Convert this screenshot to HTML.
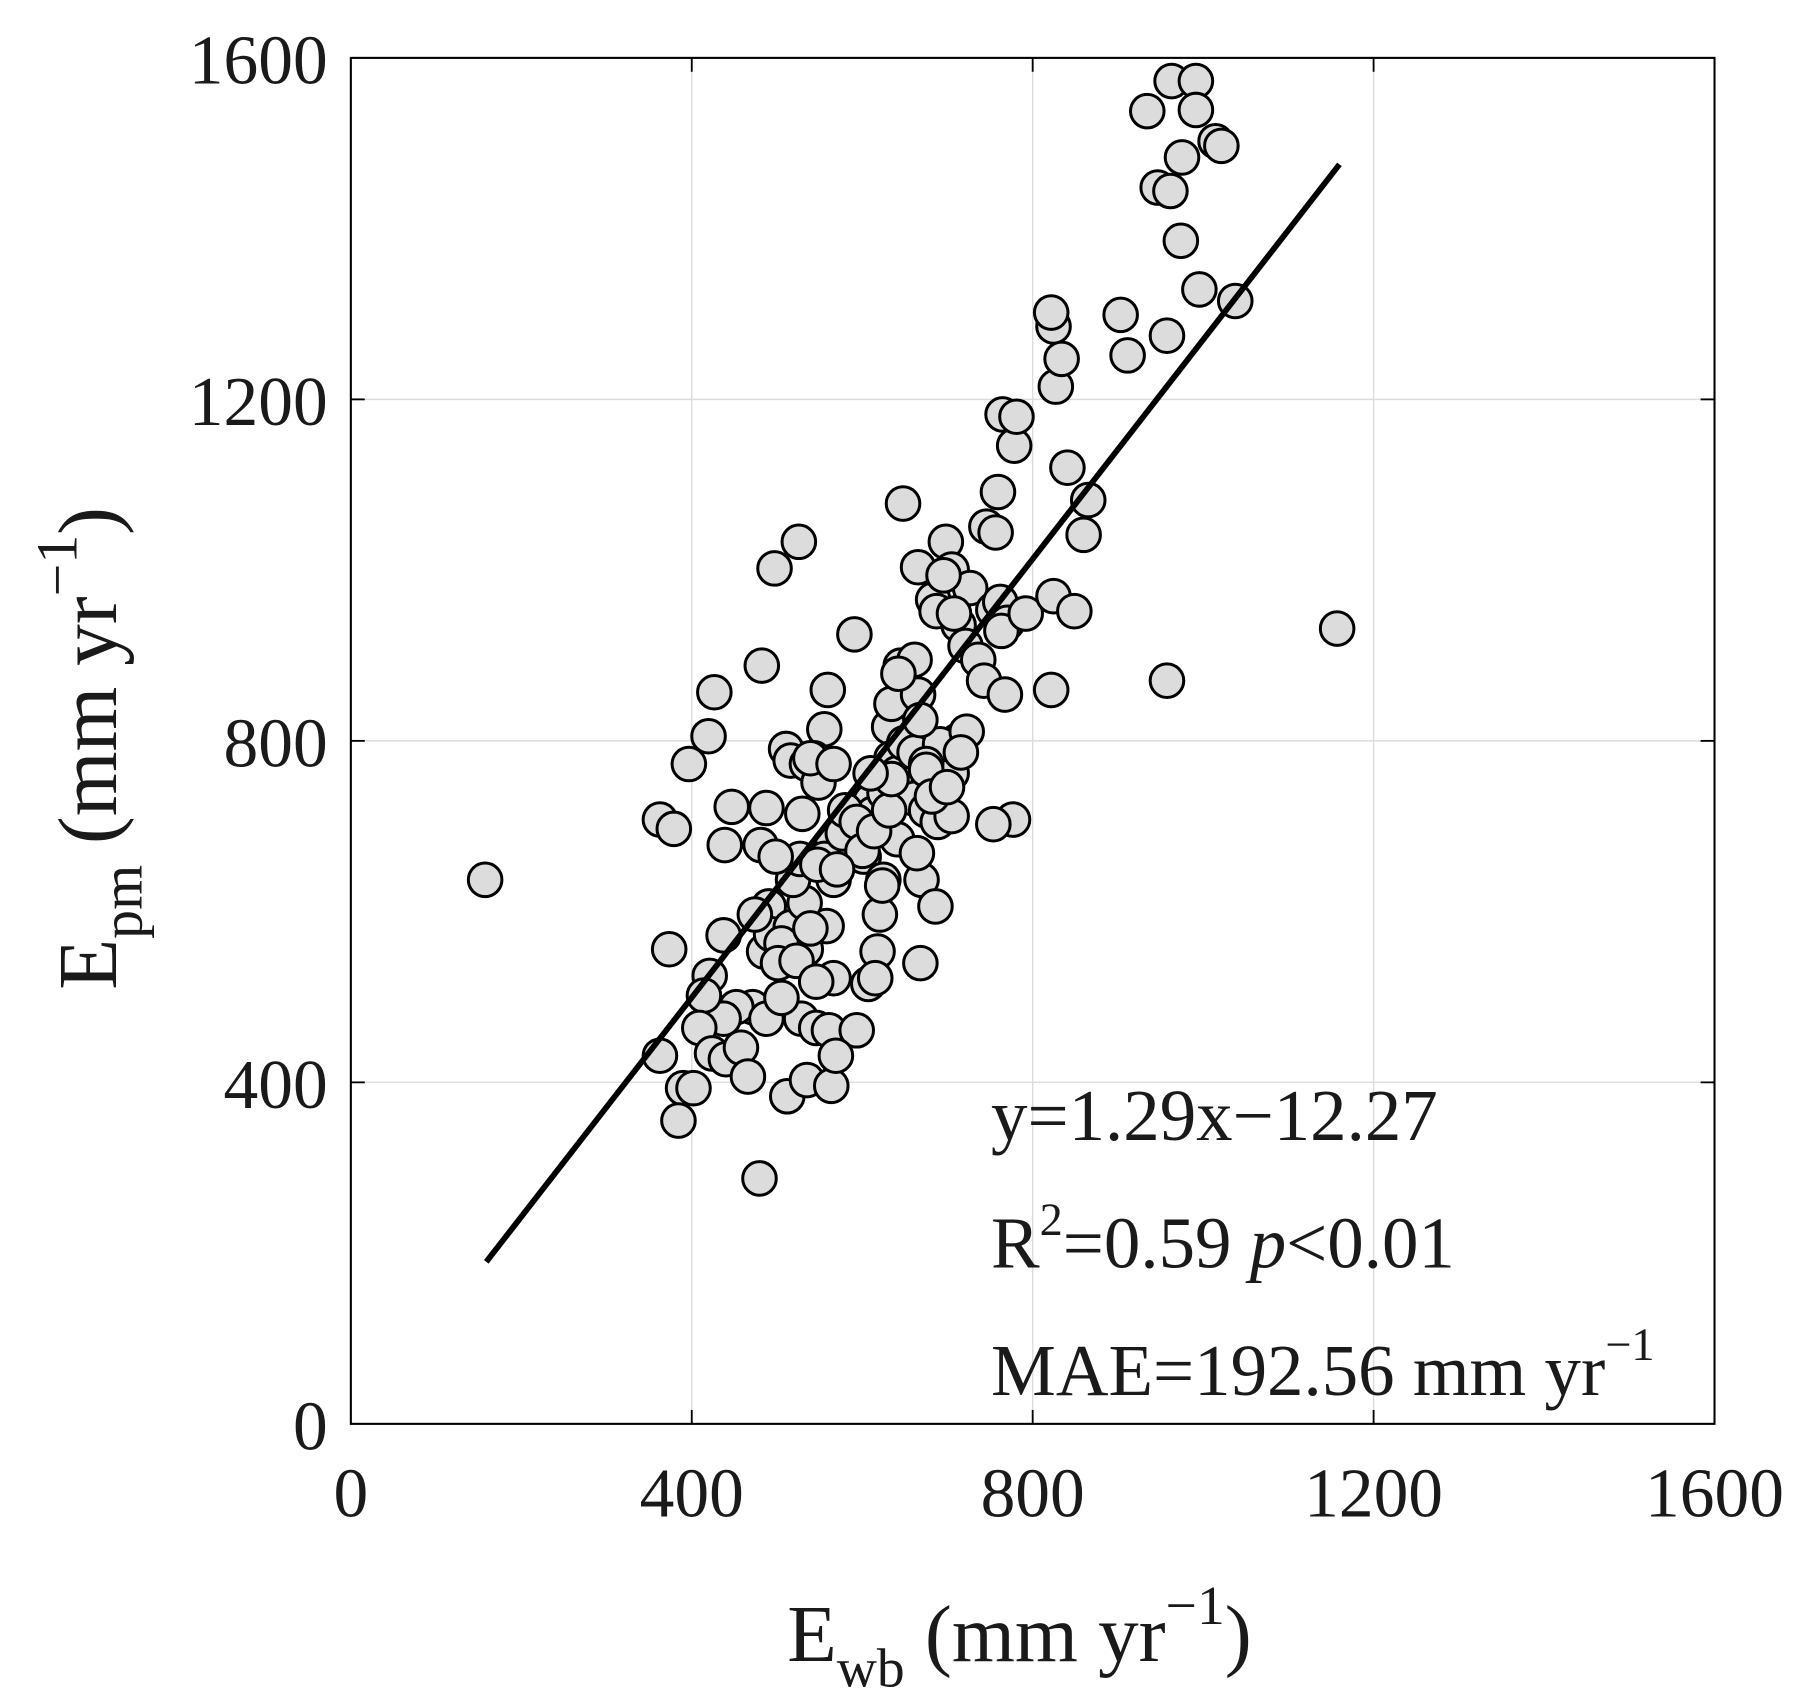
<!DOCTYPE html>
<html><head><meta charset="utf-8"><style>html,body{margin:0;padding:0;background:#fff}svg{display:block}</style></head>
<body>
<svg width="1813" height="1704" viewBox="0 0 1566 1472" xmlns="http://www.w3.org/2000/svg" font-family="Liberation Serif, serif">
<rect width="1566" height="1472" fill="#fff"/>
<g stroke="#dcdcdc" stroke-width="1.2">
<line x1="597.5" y1="50" x2="597.5" y2="1230"/><line x1="892" y1="50" x2="892" y2="1230"/><line x1="1186.5" y1="50" x2="1186.5" y2="1230"/>
<line x1="303" y1="935" x2="1481" y2="935"/><line x1="303" y1="640" x2="1481" y2="640"/><line x1="303" y1="345" x2="1481" y2="345"/>
</g>
<g stroke="#000" stroke-width="1.6">
<line x1="597.5" y1="1230" x2="597.5" y2="1218"/><line x1="892" y1="1230" x2="892" y2="1218"/><line x1="1186.5" y1="1230" x2="1186.5" y2="1218"/>
<line x1="597.5" y1="50" x2="597.5" y2="62"/><line x1="892" y1="50" x2="892" y2="62"/><line x1="1186.5" y1="50" x2="1186.5" y2="62"/>
<line x1="303" y1="935" x2="315" y2="935"/><line x1="303" y1="640" x2="315" y2="640"/><line x1="303" y1="345" x2="315" y2="345"/>
<line x1="1481" y1="935" x2="1469" y2="935"/><line x1="1481" y1="640" x2="1469" y2="640"/><line x1="1481" y1="345" x2="1469" y2="345"/>
</g>
<g fill="#dcdcdc" stroke="#000" stroke-width="2.6">
<circle cx="419" cy="760" r="14.5"/><circle cx="570" cy="708" r="14.5"/><circle cx="582" cy="716" r="14.5"/><circle cx="578" cy="820" r="14.5"/><circle cx="595" cy="660" r="14.5"/><circle cx="612" cy="636" r="14.5"/><circle cx="617" cy="598" r="14.5"/><circle cx="625" cy="808" r="14.5"/><circle cx="632" cy="697" r="14.5"/><circle cx="626" cy="730" r="14.5"/><circle cx="658" cy="575" r="14.5"/><circle cx="660" cy="822" r="14.5"/><circle cx="662" cy="698" r="14.5"/><circle cx="657" cy="730" r="14.5"/><circle cx="669" cy="491" r="14.5"/><circle cx="690" cy="468" r="14.5"/><circle cx="679" cy="647" r="14.5"/><circle cx="664" cy="783" r="14.5"/><circle cx="666" cy="807" r="14.5"/><circle cx="692" cy="880" r="14.5"/><circle cx="683" cy="801" r="14.5"/><circle cx="683" cy="657" r="14.5"/><circle cx="697" cy="660" r="14.5"/><circle cx="693" cy="703" r="14.5"/><circle cx="693" cy="745" r="14.5"/><circle cx="715" cy="596" r="14.5"/><circle cx="712" cy="630" r="14.5"/><circle cx="703" cy="655" r="14.5"/><circle cx="707" cy="676" r="14.5"/><circle cx="719" cy="728" r="14.5"/><circle cx="712" cy="742" r="14.5"/><circle cx="705" cy="888" r="14.5"/><circle cx="716" cy="890" r="14.5"/><circle cx="728" cy="720" r="14.5"/><circle cx="738" cy="548" r="14.5"/><circle cx="740" cy="702" r="14.5"/><circle cx="746" cy="740" r="14.5"/><circle cx="752" cy="692" r="14.5"/><circle cx="754" cy="703" r="14.5"/><circle cx="764" cy="685" r="14.5"/><circle cx="768" cy="628" r="14.5"/><circle cx="770" cy="608" r="14.5"/><circle cx="778" cy="575" r="14.5"/><circle cx="780" cy="435" r="14.5"/><circle cx="770" cy="655" r="14.5"/><circle cx="775" cy="668" r="14.5"/><circle cx="781" cy="642" r="14.5"/><circle cx="790" cy="650" r="14.5"/><circle cx="793" cy="490" r="14.5"/><circle cx="806" cy="518" r="14.5"/><circle cx="809" cy="528" r="14.5"/><circle cx="817" cy="468" r="14.5"/><circle cx="822" cy="492" r="14.5"/><circle cx="828" cy="540" r="14.5"/><circle cx="838" cy="508" r="14.5"/><circle cx="834" cy="558" r="14.5"/><circle cx="845" cy="570" r="14.5"/><circle cx="850" cy="588" r="14.5"/><circle cx="858" cy="527" r="14.5"/><circle cx="864" cy="520" r="14.5"/><circle cx="852" cy="455" r="14.5"/><circle cx="862" cy="425" r="14.5"/><circle cx="860" cy="460" r="14.5"/><circle cx="870" cy="538" r="14.5"/><circle cx="866" cy="358" r="14.5"/><circle cx="876" cy="385" r="14.5"/><circle cx="865" cy="545" r="14.5"/><circle cx="878" cy="360" r="14.5"/><circle cx="886" cy="530" r="14.5"/><circle cx="875" cy="708" r="14.5"/><circle cx="858" cy="712" r="14.5"/><circle cx="868" cy="600" r="14.5"/><circle cx="827" cy="640" r="14.5"/><circle cx="822" cy="668" r="14.5"/><circle cx="812" cy="643" r="14.5"/><circle cx="800" cy="660" r="14.5"/><circle cx="790" cy="690" r="14.5"/><circle cx="775" cy="725" r="14.5"/><circle cx="763" cy="760" r="14.5"/><circle cx="760" cy="790" r="14.5"/><circle cx="800" cy="700" r="14.5"/><circle cx="810" cy="710" r="14.5"/><circle cx="822" cy="705" r="14.5"/><circle cx="835" cy="632" r="14.5"/><circle cx="830" cy="650" r="14.5"/><circle cx="800" cy="665" r="14.5"/><circle cx="796" cy="760" r="14.5"/><circle cx="808" cy="783" r="14.5"/><circle cx="795" cy="832" r="14.5"/><circle cx="740" cy="890" r="14.5"/><circle cx="720" cy="845" r="14.5"/><circle cx="714" cy="800" r="14.5"/><circle cx="696" cy="820" r="14.5"/><circle cx="675" cy="815" r="14.5"/><circle cx="652" cy="790" r="14.5"/><circle cx="695" cy="780" r="14.5"/><circle cx="685" cy="760" r="14.5"/><circle cx="700" cy="655" r="14.5"/><circle cx="720" cy="660" r="14.5"/><circle cx="730" cy="700" r="14.5"/><circle cx="740" cy="710" r="14.5"/><circle cx="745" cy="735" r="14.5"/><circle cx="755" cy="718" r="14.5"/><circle cx="768" cy="700" r="14.5"/><circle cx="770" cy="673" r="14.5"/><circle cx="752" cy="668" r="14.5"/><circle cx="720" cy="760" r="14.5"/><circle cx="750" cy="850" r="14.5"/><circle cx="758" cy="822" r="14.5"/><circle cx="756" cy="845" r="14.5"/><circle cx="650" cy="870" r="14.5"/><circle cx="636" cy="870" r="14.5"/><circle cx="625" cy="880" r="14.5"/><circle cx="613" cy="843" r="14.5"/><circle cx="608" cy="860" r="14.5"/><circle cx="604" cy="888" r="14.5"/><circle cx="590" cy="940" r="14.5"/><circle cx="599" cy="940" r="14.5"/><circle cx="586" cy="968" r="14.5"/><circle cx="570" cy="912" r="14.5"/><circle cx="615" cy="910" r="14.5"/><circle cx="627" cy="915" r="14.5"/><circle cx="640" cy="905" r="14.5"/><circle cx="646" cy="930" r="14.5"/><circle cx="662" cy="880" r="14.5"/><circle cx="675" cy="862" r="14.5"/><circle cx="680" cy="947" r="14.5"/><circle cx="697" cy="933" r="14.5"/><circle cx="718" cy="938" r="14.5"/><circle cx="722" cy="912" r="14.5"/><circle cx="656" cy="1018" r="14.5"/><circle cx="672" cy="832" r="14.5"/><circle cx="688" cy="830" r="14.5"/><circle cx="705" cy="848" r="14.5"/><circle cx="700" cy="802" r="14.5"/><circle cx="691" cy="742" r="14.5"/><circle cx="706" cy="747" r="14.5"/><circle cx="670" cy="740" r="14.5"/><circle cx="723" cy="751" r="14.5"/><circle cx="762" cy="765" r="14.5"/><circle cx="792" cy="737" r="14.5"/><circle cx="793" cy="600" r="14.5"/><circle cx="815" cy="497" r="14.5"/><circle cx="824" cy="530" r="14.5"/><circle cx="790" cy="570" r="14.5"/><circle cx="776" cy="582" r="14.5"/><circle cx="795" cy="622" r="14.5"/><circle cx="805" cy="688" r="14.5"/><circle cx="818" cy="680" r="14.5"/><circle cx="908" cy="596" r="14.5"/><circle cx="910" cy="515" r="14.5"/><circle cx="922" cy="404" r="14.5"/><circle cx="928" cy="528" r="14.5"/><circle cx="936" cy="462" r="14.5"/><circle cx="940" cy="432" r="14.5"/><circle cx="910" cy="282" r="14.5"/><circle cx="912" cy="334" r="14.5"/><circle cx="917" cy="310" r="14.5"/><circle cx="908" cy="270" r="14.5"/><circle cx="968" cy="272" r="14.5"/><circle cx="974" cy="307" r="14.5"/><circle cx="991" cy="96" r="14.5"/><circle cx="1000" cy="162" r="14.5"/><circle cx="1011" cy="165" r="14.5"/><circle cx="1012" cy="70" r="14.5"/><circle cx="1021" cy="136" r="14.5"/><circle cx="1020" cy="208" r="14.5"/><circle cx="1033" cy="70" r="14.5"/><circle cx="1033" cy="95" r="14.5"/><circle cx="1036" cy="250" r="14.5"/><circle cx="1050" cy="122" r="14.5"/><circle cx="1055" cy="126" r="14.5"/><circle cx="1067" cy="260" r="14.5"/><circle cx="1008" cy="290" r="14.5"/><circle cx="1008" cy="588" r="14.5"/><circle cx="1155" cy="543" r="14.5"/>
</g>
<line x1="420" y1="1090" x2="1157" y2="142" stroke="#000" stroke-width="5"/>
<rect x="303" y="50" width="1178" height="1180" fill="none" stroke="#000" stroke-width="1.8"/>
<g font-size="60" fill="#1a1a1a">
<g text-anchor="end"><text x="283" y="1252">0</text><text x="283" y="957">400</text><text x="283" y="662">800</text><text x="283" y="367">1200</text><text x="283" y="72">1600</text></g>
<g text-anchor="middle"><text x="303" y="1310">0</text><text x="597.5" y="1310">400</text><text x="892" y="1310">800</text><text x="1186.5" y="1310">1200</text><text x="1481" y="1310">1600</text></g>
</g>
<g font-size="63" fill="#1a1a1a">
<text x="856" y="985">y=1.29x−12.27</text>
<text x="856" y="1095">R<tspan font-size="40" dy="-28">2</tspan><tspan dy="28">=0.59  </tspan><tspan font-style="italic">p</tspan>&lt;0.01</text>
<text x="856" y="1205">MAE=192.56 mm yr<tspan font-size="40" dy="-30">−1</tspan></text>
</g>
<text x="680" y="1435" font-size="70" fill="#1a1a1a">E<tspan font-size="48" dy="22">wb</tspan><tspan dy="-22"> (mm yr</tspan><tspan font-size="48" dy="-32">−1</tspan><tspan dy="32">)</tspan></text>
<text transform="translate(100,855) rotate(-90)" font-size="72" fill="#1a1a1a">E<tspan font-size="50" dy="22">pm</tspan><tspan dy="-22">  (mm yr</tspan><tspan font-size="50" dy="-34">−1</tspan><tspan dy="34">)</tspan></text>
</svg>
</body></html>
